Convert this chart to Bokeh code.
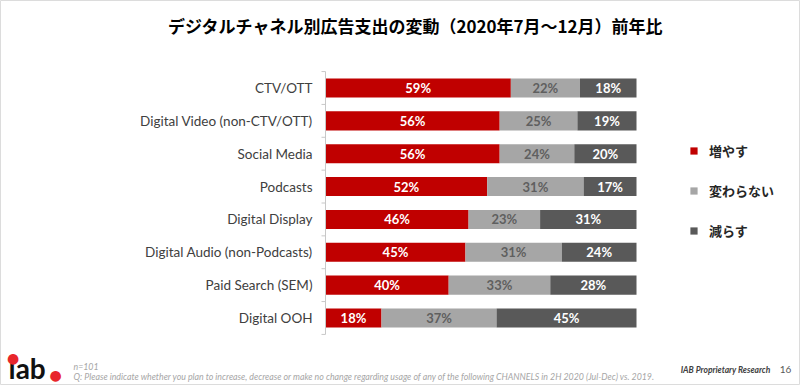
import math
from bokeh.plotting import figure
from bokeh.models import Range1d, Label, Legend, LegendItem, ColumnDataSource
from bokeh.core.properties import value
from bokeh.embed import file_html
from bokeh.resources import INLINE

# ---------------- data ----------------
categories = [
    "CTV/OTT",
    "Digital Video (non-CTV/OTT)",
    "Social Media",
    "Podcasts",
    "Digital Display",
    "Digital Audio (non-Podcasts)",
    "Paid Search (SEM)",
    "Digital OOH",
]
increase = [59, 56, 56, 52, 46, 45, 40, 18]
no_change = [22, 25, 24, 31, 23, 31, 33, 37]
decrease = [18, 19, 20, 17, 31, 24, 28, 45]
series_names = ["増やす", "変わらない", "減らす"]
series_colors = ["#C00000", "#A6A6A6", "#595959"]
label_colors = ["#FFFFFF", "#5F5F5F", "#FFFFFF"]

title_text = "デジタルチャネル別広告支出の変動（2020年7月～12月）前年比"
note_n = "n=101"
note_q = ("Q: Please indicate whether you plan to increase, decrease or make no change regarding "
          "usage of any of the following CHANNELS in 2H 2020 (Jul-Dec) vs. 2019.")
source_text = "IAB Proprietary Research"
page_no = "16"

# ---------------- layout ----------------
W, H = 800, 385
ZERO_PX, FULL_PX = 325, 636            # canvas px where 0% and 100% fall
TOP_ROW_PX, BOT_ROW_PX = 87.5, 317.5   # canvas px of first / last row centres


def sx(px):
    return px


def sy(py):
    return H - py


ppu_x = (FULL_PX - ZERO_PX) / 100.0
x_range = Range1d(-ZERO_PX / ppu_x, 100 + (W - FULL_PX) / ppu_x)
n = len(categories)
ppu_y = (BOT_ROW_PX - TOP_ROW_PX) / (n - 1)
y_range = Range1d(-(H - BOT_ROW_PX) / ppu_y, (n - 1) + TOP_ROW_PX / ppu_y)

# ---------------- 100% stacked data ----------------
series = [increase, no_change, decrease]
totals = [sum(v) for v in zip(*series)]
norm = [[v / t * 100 for v, t in zip(s, totals)] for s in series]
ypos = [n - 1 - i for i in range(n)]     # first category at the top

src = ColumnDataSource(dict(y=ypos, cat=categories, inc=norm[0], nc=norm[1], dec=norm[2]))

p = figure(width=W, height=H, x_range=x_range, y_range=y_range,
           output_backend="svg", toolbar_location=None,
           min_border=0, min_border_left=0, min_border_right=0,
           min_border_top=0, min_border_bottom=0)
p.outline_line_color = "#DCDCDC"
p.outline_line_width = 1
p.grid.visible = False
p.axis.visible = False
p.background_fill_color = "white"
p.border_fill_color = "white"

renderers = p.hbar_stack(["inc", "nc", "dec"], y="y", height=0.58,
                         color=series_colors, line_color=None, source=src)

# category axis: line, boundary ticks, labels
bounds = [b - 0.5 for b in range(n + 1)]
p.segment(x0=0, y0=bounds[0], x1=0, y1=bounds[-1], line_color="#C8C8C8", line_width=1)
p.ray(x=[0] * len(bounds), y=bounds, length=4, length_units="screen", angle=math.pi,
      line_color="#C8C8C8", line_width=1)
p.text(x=0, y="y", text="cat", source=src, x_offset=-13,
       text_align="right", text_baseline="middle",
       text_font=value("Lato"), text_font_size="13.5px", text_color="#404040")

# segment labels
lx, ly, lt, lc = [], [], [], []
for ci in range(n):
    left = 0.0
    for si in range(3):
        w = norm[si][ci]
        lx.append(left + w / 2)
        ly.append(ypos[ci])
        lt.append(f"{series[si][ci]}%")
        lc.append(label_colors[si])
        left += w
p.text(x="x", y="y", text="t", text_color="c",
       source=ColumnDataSource(dict(x=lx, y=ly, t=lt, c=lc)),
       text_align="center", text_baseline="middle",
       text_font=value("Lato"), text_font_style="bold", text_font_size="13px")

# legend
legend = Legend(
    items=[LegendItem(label=nm, renderers=[r]) for nm, r in zip(series_names, renderers)],
    location=(sx(689), sy(239.5)),
    orientation="vertical",
    glyph_width=9, glyph_height=9, label_height=17, spacing=21,
    label_standoff=11, padding=0, margin=0,
    border_line_color=None, background_fill_alpha=0,
    label_text_font="Noto Sans CJK JP", label_text_font_style="bold",
    label_text_font_size="13px", label_text_color="#262626",
)
p.add_layout(legend, "center")

# title
p.add_layout(Label(x=sx(415), y=sy(24.5), x_units="screen", y_units="screen",
                   text=title_text, text_align="center", text_baseline="middle",
                   text_font="Noto Sans CJK JP", text_font_style="bold",
                   text_font_size="17px", text_color="#000000"))

# footer notes
p.add_layout(Label(x=sx(73), y=sy(366), x_units="screen", y_units="screen",
                   text=note_n, text_baseline="middle", text_font="Lato",
                   text_font_style="italic", text_font_size="8.8px", text_color="#A6A6A6"))
p.add_layout(Label(x=sx(73), y=sy(376), x_units="screen", y_units="screen",
                   text=note_q, text_baseline="middle", text_font="Lato",
                   text_font_style="italic", text_font_size="8.8px", text_color="#A6A6A6"))
p.add_layout(Label(x=sx(770), y=sy(369), x_units="screen", y_units="screen",
                   text=source_text, text_align="right", text_baseline="middle",
                   text_font="Lato", text_font_style="bold italic",
                   text_font_size="8.5px", text_color="#404040"))
p.add_layout(Label(x=sx(785), y=sy(369), x_units="screen", y_units="screen",
                   text=page_no, text_align="center", text_baseline="middle",
                   text_font="Lato", text_font_size="10px", text_color="#595959"))

# iab logo
p.add_layout(Label(x=sx(8), y=sy(367), x_units="screen", y_units="screen",
                   text="ıab", text_baseline="middle",
                   text_font="Lato", text_font_style="bold",
                   text_font_size="28px", text_color="#111111"))
p.add_layout(Label(x=sx(12.5), y=sy(357), x_units="screen", y_units="screen",
                   text="●", text_align="center", text_baseline="middle",
                   text_font="DejaVu Sans", text_font_size="14px", text_color="#E8262B"))
p.add_layout(Label(x=sx(55), y=sy(374.5), x_units="screen", y_units="screen",
                   text="●", text_align="center", text_baseline="middle",
                   text_font="DejaVu Sans", text_font_size="14px", text_color="#E8262B"))

open("out.html", "w").write(file_html(p, INLINE))
